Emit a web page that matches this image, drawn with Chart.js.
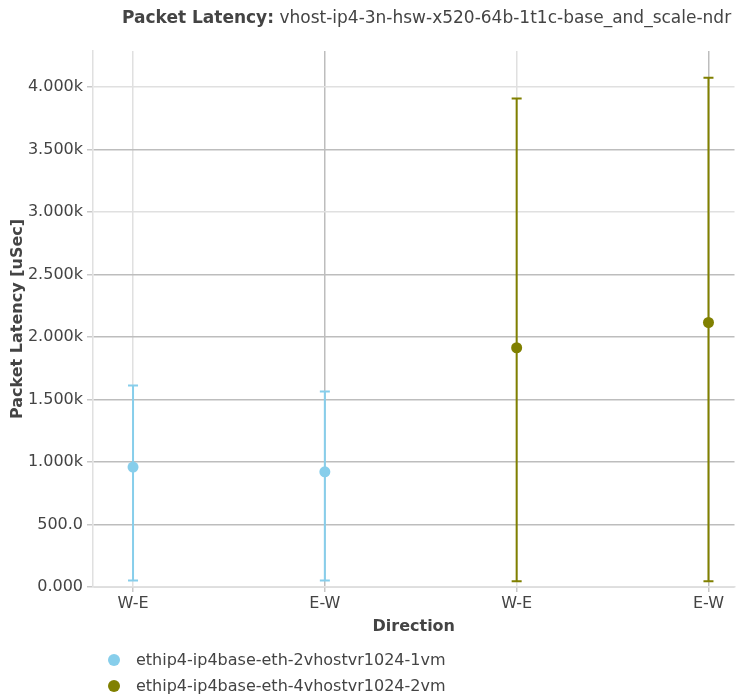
<!DOCTYPE html>
<html lang="en">

<head>
  <meta charset="UTF-8">
  <title>Packet Latency</title>
  <script src="https://cdn.jsdelivr.net/npm/chart.js"></script>
  <style>
    body {
      margin: 0;
      background: #fff;
      font-family: 'DejaVu Sans', sans-serif;
      color: #444;
      overflow: hidden;
    }

    .wrap {
      position: relative;
      width: 740px;
      height: 700px;
    }

    canvas {
      display: block;
    }

    .title {
      position: absolute;
      left: 122px;
      top: 7px;
      font-size: 17px;
      white-space: nowrap;
    }

    .legend {
      position: absolute;
      left: 108px;
      top: 647px;
      font-size: 16px;
    }

    .legend div {
      height: 26px;
      line-height: 26px;
      white-space: nowrap;
    }

    .legend span {
      display: inline-block;
      width: 12px;
      height: 12px;
      border-radius: 50%;
      margin-right: 16px;
      vertical-align: -1px;
    }
  </style>
</head>

<body>
  <div class="wrap">
    <canvas id="latChart" width="740" height="700"></canvas>
    <div class="title"><b>Packet Latency:</b> vhost-ip4-3n-hsw-x520-64b-1t1c-base_and_scale-ndr</div>
    <div class="legend" id="legend"></div>
  </div>

  <script>
    // categories along the x axis (plotted at index positions)
    const categories = ['W-E', 'E-W', 'W-E', 'E-W'];

    // y axis ticks and their labels
    const yTicks = [0, 500, 1000, 1500, 2000, 2500, 3000, 3500, 4000];
    const yTickLabels = ['0.000', '500.0', '1.000k', '1.500k', '2.000k', '2.500k', '3.000k', '3.500k', '4.000k'];

    // series 1
    const s1Name = 'ethip4-ip4base-eth-2vhostvr1024-1vm';
    const s1X = [0, 1];
    const s1Avg = [960, 922];
    const s1Min = [53, 53];
    const s1Max = [1613, 1565];

    // series 2
    const s2Name = 'ethip4-ip4base-eth-4vhostvr1024-2vm';
    const s2X = [2, 3];
    const s2Avg = [1915, 2117];
    const s2Min = [47, 46];
    const s2Max = [3909, 4075];

    const blue = '#87ceeb';
    const olive = '#808000';
    const light = '#e0e0e0';
    const dark = '#bdbdbd';

    function makeSet(name, xs, avg, mins, maxs, color) {
      return {
        label: name,
        data: xs.map((x, i) => ({ x: x, y: avg[i] })),
        errMin: mins,
        errMax: maxs,
        backgroundColor: color,
        borderColor: color,
        pointRadius: 5.5,
        pointBorderWidth: 0,
        showLine: false
      };
    }

    // draws the min/max error bars using the chart scales
    const errorBars = {
      id: 'errorBars',
      beforeDatasetsDraw(chart) {
        const ctx = chart.ctx;
        const xs = chart.scales.x;
        const ys = chart.scales.y;
        chart.data.datasets.forEach(ds => {
          ctx.save();
          ctx.strokeStyle = ds.borderColor;
          ctx.lineWidth = 2;
          ds.data.forEach((p, i) => {
            const px = xs.getPixelForValue(p.x);
            const top = ys.getPixelForValue(ds.errMax[i]);
            const bot = ys.getPixelForValue(ds.errMin[i]);
            ctx.beginPath();
            ctx.moveTo(px, top);
            ctx.lineTo(px, bot);
            ctx.moveTo(px - 5, top);
            ctx.lineTo(px + 5, top);
            ctx.moveTo(px - 5, bot);
            ctx.lineTo(px + 5, bot);
            ctx.stroke();
          });
          ctx.restore();
        });
      }
    };

    Chart.defaults.font.family = "'DejaVu Sans', sans-serif";
    Chart.defaults.color = '#444';

    const chart = new Chart(document.getElementById('latChart'), {
      type: 'scatter',
      data: {
        datasets: [
          makeSet(s1Name, s1X, s1Avg, s1Min, s1Max, blue),
          makeSet(s2Name, s2X, s2Avg, s2Min, s2Max, olive)
        ]
      },
      plugins: [errorBars],
      options: {
        responsive: false,
        animation: false,
        events: [],
        layout: { padding: { top: 51, right: 0, left: 0, bottom: 53 } },
        plugins: {
          legend: { display: false },
          title: { display: false },
          tooltip: { enabled: false }
        },
        scales: {
          x: {
            type: 'linear',
            min: -0.2087,
            max: 3.1357,
            afterBuildTicks: s => { s.ticks = categories.map((c, i) => ({ value: i })); },
            afterFit: s => { s.height = 60; },
            ticks: {
              font: { size: 16 },
              padding: 2,
              maxRotation: 0,
              callback: (v) => categories[v]
            },
            grid: {
              color: c => (c.index % 2 === 0 ? light : dark),
              tickColor: '#c8c8c8',
              tickLength: 5,
              lineWidth: 1.5
            },
            border: { color: light, width: 1.5 },
            title: {
              display: true,
              text: 'Direction',
              font: { size: 16, weight: 'bold' },
              padding: { top: 0, bottom: 11 }
            }
          },
          y: {
            min: 0,
            max: 4290,
            afterBuildTicks: s => { s.ticks = yTicks.map(v => ({ value: v })); },
            afterFit: s => { s.width = 93; },
            ticks: {
              font: { size: 16 },
              padding: 4,
              callback: (v) => yTickLabels[yTicks.indexOf(v)]
            },
            grid: {
              color: c => ([3000, 4000].includes(c.tick.value) ? light : dark),
              tickColor: '#c8c8c8',
              tickLength: 6,
              lineWidth: 1.5
            },
            border: { color: light, width: 1.5 },
            title: {
              display: true,
              text: 'Packet Latency [uSec]',
              font: { size: 16, weight: 'bold' },
              padding: { top: 8, bottom: 0 }
            }
          }
        }
      }
    });

    // legend built from the dataset names and colours
    const legendDiv = document.getElementById('legend');
    chart.data.datasets.forEach(ds => {
      const row = document.createElement('div');
      row.innerHTML = '<span style="background:' + ds.backgroundColor + '"></span>' + ds.label;
      legendDiv.appendChild(row);
    });
  </script>

</body>

</html>
